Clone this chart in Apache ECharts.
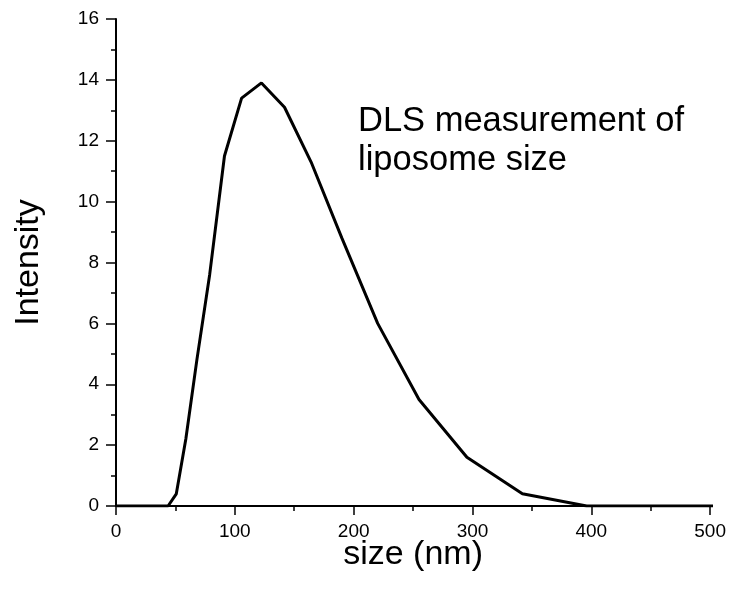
<!DOCTYPE html>
<html>
<head>
<meta charset="utf-8">
<script src="https://cdn.jsdelivr.net/npm/echarts@6/dist/echarts.min.js"></script>
<style>
html,body{margin:0;padding:0;background:#fff;}
#chart{width:729px;height:596px;}
</style>
</head>
<body>
<div id="chart"></div>
<script>
var sizes = [0.40, 0.46, 0.54, 0.62, 0.72, 0.83, 0.97, 1.12, 1.30, 1.50, 1.74, 2.01, 2.33, 2.70, 3.12, 3.62, 4.19, 4.85, 5.61, 6.50, 7.53, 8.72, 10.10, 11.70, 13.54, 15.69, 18.17, 21.04, 24.36, 28.21, 32.67, 37.84, 43.82, 50.75, 58.77, 68.06, 78.82, 91.28, 105.7, 122.4, 141.8, 164.2, 190.1, 220.2, 255.0, 295.3, 342.0, 396.1, 458.7, 531.2];
var intensity = [0, 0, 0, 0, 0, 0, 0, 0, 0, 0, 0, 0, 0, 0, 0, 0, 0, 0, 0, 0, 0, 0, 0, 0, 0, 0, 0, 0, 0, 0, 0, 0, 0, 0.4, 2.2, 4.8, 7.6, 11.5, 13.4, 13.9, 13.1, 11.3, 8.8, 6.0, 3.5, 1.6, 0.4, 0, 0, 0];
var xTicks = [0, 100, 200, 300, 400, 500];
var yTicks = [0, 2, 4, 6, 8, 10, 12, 14, 16];
var xTitle = 'size (nm)';
var yTitle = 'Intensity';
var noteLines = ['DLS measurement of', 'liposome size'];

var FONT = '"Liberation Sans", Arial, sans-serif';
var chart = echarts.init(document.getElementById('chart'), null, {renderer: 'canvas'});
var points = sizes.map(function (s, i) { return [s, intensity[i]]; });

chart.setOption({
  animation: false,
  backgroundColor: '#ffffff',
  grid: {left: 116, right: 18, top: 19, bottom: 90, containLabel: false},
  xAxis: {
    type: 'value',
    min: xTicks[0], max: xTicks[xTicks.length - 1],
    interval: xTicks[1] - xTicks[0],
    name: xTitle,
    nameLocation: 'middle',
    nameGap: 32,
    nameMoveOverlap: false,
    nameTextStyle: {fontFamily: FONT, fontSize: 34, color: '#000'},
    axisLine: {show: true, onZero: false, lineStyle: {color: '#000', width: 2}},
    axisTick: {show: true, inside: false, length: 9, lineStyle: {color: '#000', width: 1.5}},
    minorTick: {show: true, splitNumber: 2, length: 5, lineStyle: {color: '#000', width: 1.5}},
    splitLine: {show: false},
    minorSplitLine: {show: false},
    axisLabel: {margin: 16, fontFamily: FONT, fontSize: 19, color: '#000'}
  },
  yAxis: {
    type: 'value',
    min: yTicks[0], max: yTicks[yTicks.length - 1],
    interval: yTicks[1] - yTicks[0],
    name: yTitle,
    nameLocation: 'middle',
    nameRotate: 90,
    nameGap: 70,
    nameTextStyle: {fontFamily: FONT, fontSize: 34, color: '#000'},
    axisLine: {show: true, onZero: false, lineStyle: {color: '#000', width: 2}},
    axisTick: {show: true, inside: false, length: 10, lineStyle: {color: '#000', width: 1.5}},
    minorTick: {show: true, splitNumber: 2, length: 5, lineStyle: {color: '#000', width: 1.5}},
    splitLine: {show: false},
    minorSplitLine: {show: false},
    axisLabel: {margin: 17, fontFamily: FONT, fontSize: 19, color: '#000'}
  },
  series: [{
    type: 'line',
    data: points,
    showSymbol: false,
    symbol: 'none',
    clip: true,
    lineStyle: {color: '#000', width: 3},
    z: 1
  }],
  graphic: [{
    type: 'text',
    left: 358,
    top: 102,
    style: {
      text: noteLines.join('\n'),
      fontFamily: FONT,
      fontSize: 34.5,
      lineHeight: 39,
      fill: '#000'
    }
  }]
});
</script>
</body>
</html>
